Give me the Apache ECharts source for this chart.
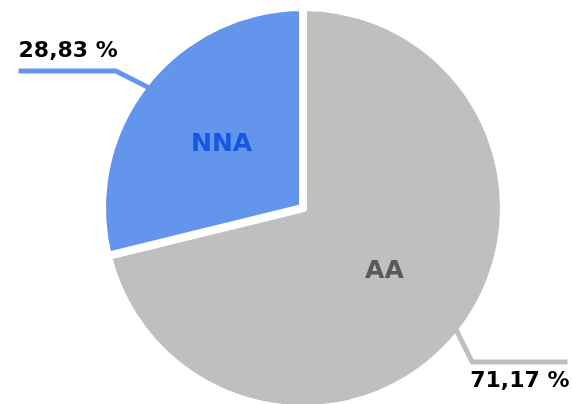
<!DOCTYPE html>
<html>
<head>
<meta charset="utf-8">
<script src="https://cdn.jsdelivr.net/npm/echarts@6/dist/echarts.min.js"></script>
<style>
html,body{margin:0;padding:0;background:#fff;}
#main{width:572px;height:404px;}
</style>
</head>
<body>
<div id="main"></div>
<script>
// 数据
var categories = ['AA', 'NNA'];
var shares = [71.17, 28.83];
var sliceColors = ['#bfbfbf', '#6495ed'];
var innerColors = ['#595959', '#1558e0'];
// 标签线拐点相对于扇区边缘的偏移
var lineBends = [[11, 30], [-29, -13]];
var pieCenter = [303, 208];
var pieRadius = 201;

var myChart = echarts.init(document.getElementById('main'));

function fmtPct(v){
	return v.toFixed(2).replace('.', ',') + ' %';
}

var sliceData = [];
var pctData = [];
for (var i = 0; i < categories.length; i++) {
	sliceData.push({
		name: categories[i],
		value: shares[i],
		itemStyle: { color: sliceColors[i] },
		label: { color: innerColors[i] }
	});
	// 透明的一层，只用来画外面的百分比标签和线（压在白边上面）
	pctData.push({
		name: categories[i],
		value: shares[i],
		labelLine: { lineStyle: { color: sliceColors[i] } }
	});
}

var option = {
	animation: false,
	series: [{
		type: 'pie',
		z: 2,
		center: pieCenter,
		radius: pieRadius,
		startAngle: 90,
		clockwise: true,
		silent: true,
		itemStyle: { borderColor: '#fff', borderWidth: 8 },
		label: {
			show: true,
			position: 'inside',
			formatter: '{b}',
			fontFamily: 'DejaVu Sans',
			fontWeight: 'bold',
			fontSize: 25
		},
		labelLine: { show: false },
		emphasis: { disabled: true },
		data: sliceData
	}, {
		type: 'pie',
		z: 5,
		center: pieCenter,
		radius: pieRadius,
		startAngle: 90,
		clockwise: true,
		silent: true,
		avoidLabelOverlap: false,
		itemStyle: { color: 'rgba(0,0,0,0)', borderWidth: 0 },
		label: {
			show: true,
			position: 'outside',
			formatter: function (p) { return fmtPct(p.value); },
			fontFamily: 'DejaVu Sans',
			fontWeight: 'bold',
			fontSize: 22,
			lineHeight: 24,
			color: '#000',
			overflow: 'none'
		},
		labelLine: { show: true, length: 20, length2: 10, lineStyle: { width: 5 } },
		labelLayout: function (params) {
			var pts = params.labelLinePoints;
			if (!pts) return {};
			var bend = lineBends[params.dataIndex];
			var isLeft = bend[0] < 0;
			var w = params.labelRect.width;
			var corner = [pts[0][0] + bend[0], pts[0][1] + bend[1]];
			// 起点放到扇区里面，线和扇区连起来
			var vx = pts[0][0] - pieCenter[0], vy = pts[0][1] - pieCenter[1];
			var len = Math.sqrt(vx * vx + vy * vy);
			var r = pieRadius - 8;
			var start = [pieCenter[0] + vx / len * r, pieCenter[1] + vy / len * r];
			if (isLeft) {
				return {
					x: corner[0] + 2,
					y: corner[1] - 8,
					align: 'right',
					verticalAlign: 'bottom',
					labelLinePoints: [start, corner, [corner[0] + 2 - w, corner[1]]]
				};
			}
			return {
				x: corner[0] - 2,
				y: corner[1] + 7,
				align: 'left',
				verticalAlign: 'top',
				labelLinePoints: [start, corner, [corner[0] - 4 + w, corner[1]]]
			};
		},
		emphasis: { disabled: true },
		data: pctData
	}]
};

myChart.setOption(option);
</script>
</body>
</html>
